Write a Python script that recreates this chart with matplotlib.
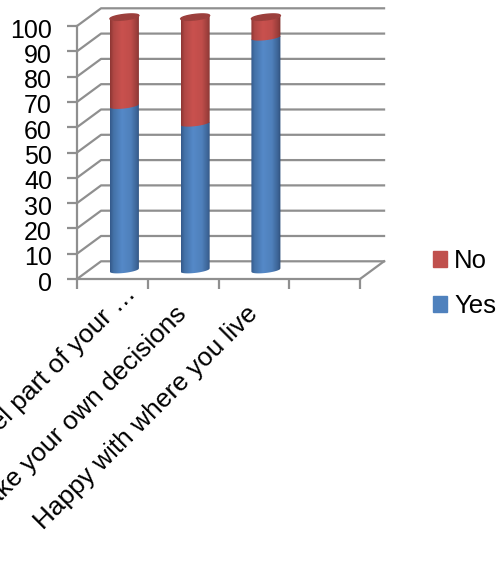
import numpy as np
import matplotlib
matplotlib.use('Agg')
import matplotlib.pyplot as plt
from matplotlib.colors import LinearSegmentedColormap
from matplotlib.patches import Patch, Polygon
from matplotlib.transforms import ScaledTranslation

plt.rcParams['font.family'] = ['Liberation Sans', 'DejaVu Sans']

categories = ['Feel part of your …', 'Make your own decisions', 'Happy with where you live']
yes_values = [65, 58, 92]
no_values = [35, 42, 8]
y_ticks = list(range(0, 101, 10))

W, H = 499, 563
GRID = '#8f8f8f'
# depth of the 3D box, in data units
DX, DY = 0.34, 7.0
BAR_W = 0.41

fig = plt.figure(figsize=(W / 100, H / 100), dpi=100)
ax = fig.add_axes([77 / W, 1 - 279 / H, 283 / W, 253 / H])
ax.set_xlim(0, 4)
ax.set_ylim(0, 100)
for s in ['top', 'right']:
    ax.spines[s].set_visible(False)
for s in ['left', 'bottom']:
    ax.spines[s].set_color(GRID)
    ax.spines[s].set_linewidth(1.6)

# back wall and side wall lines
for v in y_ticks:
    ax.plot([0, DX, 4 + DX], [v, v + DY, v + DY], color=GRID, lw=1.6, clip_on=False, zorder=1)
ax.plot([4, 4 + DX], [0, DY], color=GRID, lw=1.6, clip_on=False, zorder=1)

blue_map = LinearSegmentedColormap.from_list('b', [(0, '#34598a'), (0.12, '#4472a8'), (0.4, '#5589c8'),
                                                   (0.7, '#4f80bb'), (0.9, '#3c6496'), (1, '#2f4f7a')])
red_map = LinearSegmentedColormap.from_list('r', [(0, '#8c3533'), (0.12, '#b04845'), (0.4, '#c9514e'),
                                                  (0.7, '#c04d4a'), (0.9, '#9a3e3b'), (1, '#7d302e')])
shade = np.linspace(0, 1, 128).reshape(1, -1)
t = np.linspace(-1, 1, 60)
SAG, TILT = 1.1, 0.65


def edge(x0, level, sign):
    # front (sign=-1) or back (sign=1) arc of a bar's end ellipse
    return x0 + t * BAR_W / 2, level + t * TILT + sign * SAG * np.sqrt(1 - t ** 2)


def segment(x0, low, high, cmap):
    xb, yb = edge(x0, low, -1)
    xt, yt = edge(x0, high, -1)
    pts = np.column_stack([np.r_[xb, xt[::-1]], np.r_[yb, yt[::-1]]])
    im = ax.imshow(shade, cmap=cmap, aspect='auto', zorder=3,
                   extent=[x0 - BAR_W / 2, x0 + BAR_W / 2, low - 3, high + 3])
    im.set_clip_path(Polygon(pts, closed=True, transform=ax.transData))
    # the cylinder runs past the top of the front plane
    im.set_clip_box(fig.bbox)


for i, (yes, no) in enumerate(zip(yes_values, no_values)):
    xc = i + 0.5 + DX / 2
    base = DY / 2
    segment(xc, base + yes - 0.3, base + yes + no, red_map)
    segment(xc, base, base + yes, blue_map)
    # top cap
    top = base + yes + no
    xf, yf = edge(xc, top, -1)
    xk, yk = edge(xc, top, 1)
    ax.fill(np.r_[xf, xk[::-1]], np.r_[yf, yk[::-1]], color='#9c3f3c', zorder=4, clip_on=False)

ax.set_xlim(0, 4)
ax.set_ylim(0, 100)

ax.set_yticks(y_ticks)
ax.tick_params(axis='y', length=7, width=1.6, color=GRID, labelsize=18, pad=11, labelcolor='black')
for lbl in ax.get_yticklabels():
    lbl.set_transform(lbl.get_transform() + ScaledTranslation(0, -1.5 / 72, fig.dpi_scale_trans))

ax.set_xticks(range(5))
ax.set_xticklabels([])
ax.tick_params(axis='x', which='major', length=7, width=1.6, color=GRID)
ax.set_xticks([i + 0.38 for i in range(3)], minor=True)
labels = ax.set_xticklabels(categories, minor=True, rotation=45, ha='right', va='top',
                            rotation_mode='anchor', fontsize=18.9)
ax.tick_params(axis='x', which='minor', length=0, pad=16)
# the truncated label sits further along its diagonal
labels[0].set_transform(labels[0].get_transform() + ScaledTranslation(20 / 100, 20 / 100, fig.dpi_scale_trans))

handles = [Patch(color='#c0504d', label='No'), Patch(color='#4f81bd', label='Yes')]
fig.legend(handles=handles, loc='upper left', bbox_to_anchor=(433 / W, 1 - 249 / H), frameon=False,
           fontsize=18.5, handlelength=0.55, handleheight=0.55, handletextpad=0.27, labelspacing=0.82,
           borderpad=0, borderaxespad=0)

fig.savefig('out.png', dpi=100)
